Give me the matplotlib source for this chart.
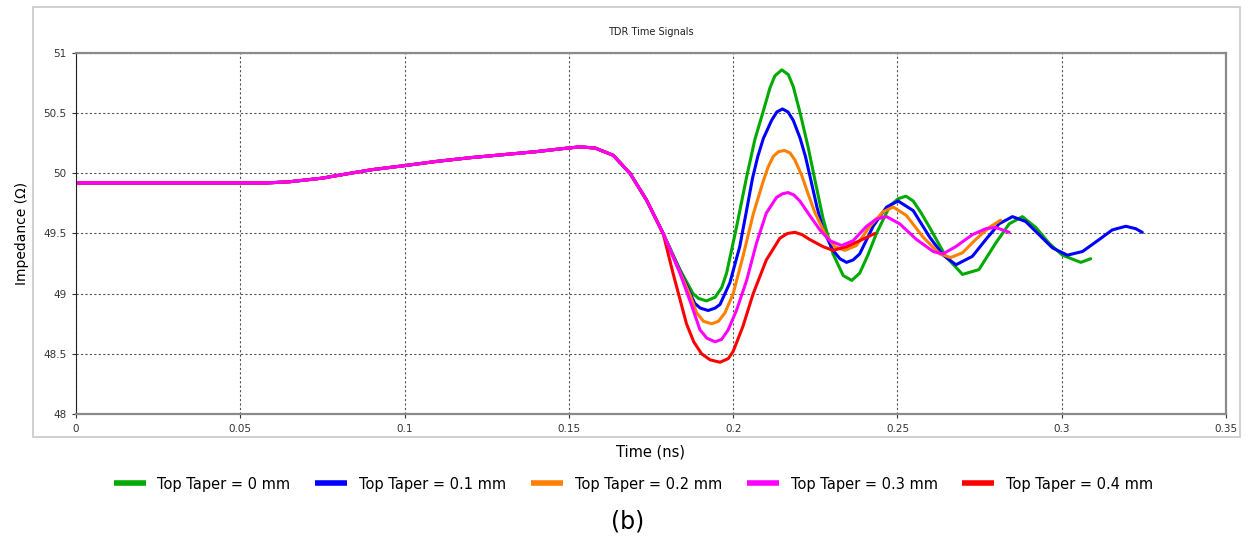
import numpy as np
import matplotlib.pyplot as plt
from matplotlib.patches import Rectangle

# shared start of every trace (before the curves split)
t_common = [0, 0.03, 0.058, 0.065, 0.075, 0.0834, 0.09, 0.1, 0.11, 0.12, 0.13, 0.14,
            0.148, 0.1534, 0.158, 0.1635, 0.1686, 0.1736, 0.1787]
z_common = [49.92, 49.92, 49.92, 49.93, 49.96, 50.0, 50.03, 50.064, 50.1, 50.13, 50.155, 50.18,
            50.205, 50.22, 50.21, 50.15, 50.0, 49.78, 49.5]

# tails after the split
t_0mm = [0.1838, 0.1878, 0.1895, 0.1919, 0.1945, 0.1965, 0.198, 0.201, 0.2041, 0.2066, 0.2092,
         0.2112, 0.2127, 0.2148, 0.2168, 0.2183, 0.2204, 0.2228, 0.2250, 0.2274, 0.2304, 0.2335,
         0.2361, 0.2385, 0.2410, 0.2436, 0.2477, 0.2503, 0.2526, 0.2548, 0.2570, 0.2598,
         0.2647, 0.2698, 0.2748, 0.2799, 0.284, 0.288, 0.2921, 0.2961, 0.3002, 0.3058, 0.3088]
z_0mm = [49.2, 49.0, 48.96, 48.94, 48.97, 49.05, 49.17, 49.55, 49.97, 50.28, 50.52,
         50.71, 50.81, 50.86, 50.82, 50.72, 50.5, 50.22, 49.93, 49.62, 49.33, 49.15,
         49.11, 49.17, 49.32, 49.5, 49.73, 49.79, 49.81, 49.77, 49.68, 49.55,
         49.31, 49.16, 49.2, 49.42, 49.58, 49.64, 49.55, 49.42, 49.32, 49.26, 49.29]

t_01mm = [0.1838, 0.1883, 0.1900, 0.1924, 0.1945, 0.196, 0.199, 0.202, 0.2040, 0.2059, 0.2075,
          0.2092, 0.2117, 0.2133, 0.2150, 0.2167, 0.2183, 0.2204, 0.222, 0.2236, 0.2255, 0.2274,
          0.2304, 0.2325, 0.2345, 0.2365, 0.2385, 0.2426, 0.2467, 0.2502, 0.2548, 0.2598, 0.2639,
          0.2678, 0.2728, 0.2769, 0.2809, 0.285, 0.289, 0.2931, 0.2972, 0.3017, 0.3063, 0.3114,
          0.3154, 0.3195, 0.3225, 0.3245]
z_01mm = [49.19, 48.92, 48.88, 48.86, 48.88, 48.91, 49.09, 49.39, 49.68, 49.96, 50.14,
          50.29, 50.44, 50.51, 50.535, 50.51, 50.44, 50.29, 50.14, 49.95, 49.72, 49.53,
          49.36, 49.29, 49.26, 49.28, 49.33, 49.56, 49.72, 49.77, 49.69, 49.47, 49.32,
          49.24, 49.31, 49.45, 49.58, 49.64, 49.6, 49.49, 49.38, 49.32, 49.35, 49.45,
          49.53, 49.56, 49.54, 49.51]

t_02mm = [0.1838, 0.1870, 0.1889, 0.1910, 0.1935, 0.1955, 0.1975, 0.2, 0.203, 0.2061, 0.2091,
          0.2106, 0.2122, 0.2138, 0.2156, 0.2173, 0.2188, 0.2209, 0.2228, 0.2248, 0.2279, 0.2309,
          0.234, 0.2375, 0.2416, 0.2456, 0.2487, 0.2527, 0.2578, 0.2629, 0.2662, 0.2698, 0.2738,
          0.2779, 0.2814]
z_02mm = [49.18, 48.98, 48.84, 48.77, 48.75, 48.77, 48.84, 49.0, 49.31, 49.66, 49.93,
          50.05, 50.14, 50.18, 50.19, 50.17, 50.11, 49.98, 49.83, 49.68, 49.5, 49.39,
          49.36, 49.4, 49.56, 49.68, 49.72, 49.65, 49.47, 49.33, 49.3, 49.34, 49.45,
          49.55, 49.61]

t_03mm = [0.1838, 0.1870, 0.1899, 0.1920, 0.1945, 0.1965, 0.1985, 0.201, 0.2041, 0.2071, 0.2101,
          0.2132, 0.2150, 0.2167, 0.2185, 0.2203, 0.2233, 0.2264, 0.2294, 0.233, 0.2365, 0.2406,
          0.2436, 0.2467, 0.2507, 0.2558, 0.2609, 0.2638, 0.2677, 0.2728, 0.2769, 0.2799, 0.284]
z_03mm = [49.17, 48.93, 48.70, 48.63, 48.60, 48.62, 48.70, 48.86, 49.11, 49.42, 49.67,
          49.8, 49.83, 49.84, 49.82, 49.77, 49.65, 49.53, 49.44, 49.4, 49.44, 49.56,
          49.62, 49.64, 49.58, 49.45, 49.35, 49.33, 49.39, 49.49, 49.54, 49.55, 49.51]

t_04mm = [0.1817, 0.1858, 0.1880, 0.1904, 0.1930, 0.1960, 0.1985, 0.2, 0.203, 0.2061, 0.2101,
          0.2142, 0.2165, 0.2188, 0.2210, 0.2233, 0.2274, 0.2304, 0.2345, 0.2385, 0.2431]
z_04mm = [49.17, 48.75, 48.6, 48.5, 48.45, 48.43, 48.46, 48.52, 48.73, 49.0, 49.28,
          49.46, 49.5, 49.51, 49.49, 49.45, 49.39, 49.36, 49.39, 49.44, 49.5]

labels = ['Top Taper = 0 mm', 'Top Taper = 0.1 mm', 'Top Taper = 0.2 mm',
          'Top Taper = 0.3 mm', 'Top Taper = 0.4 mm']
colors = ['#00aa00', '#0000ff', '#ff7f00', '#ff00ff', '#ff0000']

x_ticks = [0, 0.05, 0.1, 0.15, 0.2, 0.25, 0.3, 0.35]
x_labels = ['0', '0.05', '0.1', '0.15', '0.2', '0.25', '0.3', '0.35']
y_ticks = [48, 48.5, 49, 49.5, 50, 50.5, 51]
y_labels = ['48', '48.5', '49', '49.5', '50', '50.5', '51']

tails = [(t_0mm, z_0mm), (t_01mm, z_01mm), (t_02mm, z_02mm), (t_03mm, z_03mm), (t_04mm, z_04mm)]

fig = plt.figure(figsize=(12.47, 5.38), dpi=100)
fig.patches.append(Rectangle((0.0265, 0.1877), 0.968, 0.799, transform=fig.transFigure,
                             fill=False, edgecolor='#c8c8c8', linewidth=1.2))
ax = fig.add_axes([0.0609, 0.2305, 0.9223, 0.671])

# draw red before magenta so the shared section shows magenta on top
order = [0, 1, 2, 4, 3]
handles = {}
for i in order:
    t = np.concatenate([t_common, tails[i][0]])
    z = np.concatenate([z_common, tails[i][1]])
    ln, = ax.plot(t, z, color=colors[i], linewidth=2.2, solid_capstyle='round',
                  solid_joinstyle='round')
    handles[i] = ln

ax.set_xlim(0, 0.35)
ax.set_ylim(48, 51)
ax.set_xticks(x_ticks)
ax.set_xticklabels(x_labels)
ax.set_yticks(y_ticks)
ax.set_yticklabels(y_labels)
ax.tick_params(labelsize=7.5, colors='#333333', length=3, width=0.8, pad=4)
ax.grid(True, color='#555555', linestyle=(0, (2, 2)), linewidth=0.8)

for s in ['top', 'right', 'bottom']:
    ax.spines[s].set_color('#8a8a8a')
    ax.spines[s].set_linewidth(1.6)
ax.spines['left'].set_color('#222222')
ax.spines['left'].set_linewidth(0.8)

ax.set_title('TDR Time Signals', fontsize=7, color='#222222', pad=13)
ax.set_ylabel('Impedance (\u03a9)', fontsize=10, labelpad=10)
fig.text(0.522, 1 - 452 / 538, 'Time (ns)', fontsize=10.5, ha='center', va='center')

leg = fig.legend([handles[i] for i in range(5)], labels, loc='center', ncol=5, frameon=False,
                 bbox_to_anchor=(0.508, 1 - 484 / 538), fontsize=10.5, handlelength=2.2,
                 columnspacing=1.7, handletextpad=0.8)
for ln in leg.get_lines():
    ln.set_linewidth(4)
    ln.set_solid_capstyle('butt')

fig.text(0.503, 1 - 522 / 538, '(b)', fontsize=17, ha='center', va='center')

fig.savefig('out.png', dpi=100)
